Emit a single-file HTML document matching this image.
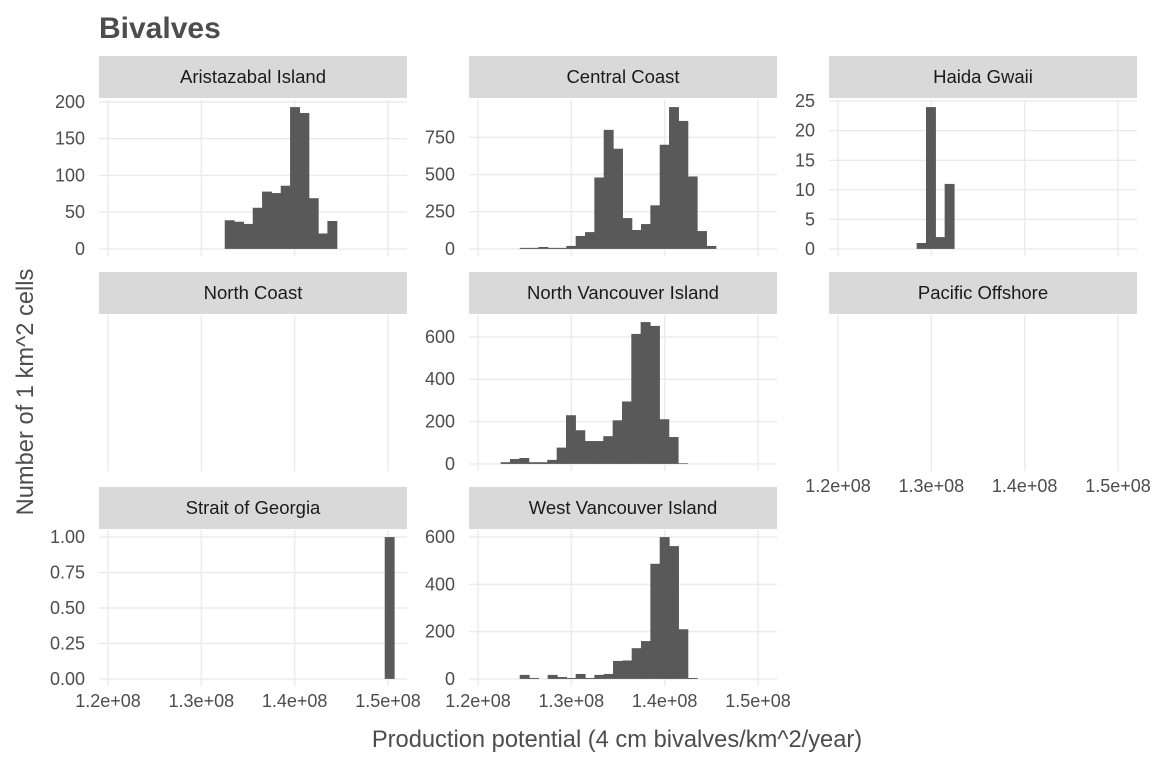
<!DOCTYPE html>
<html><head><meta charset="utf-8"><style>
html,body{margin:0;padding:0;background:#fff;}
svg{display:block;font-family:"Liberation Sans",sans-serif;}
</style></head><body>
<svg id="chart" width="1152" height="768">
<text x="99" y="38" font-size="30" font-weight="bold" fill="#4d4d4d">Bivalves</text>
<text x="617" y="747" font-size="23.7" fill="#4d4d4d" text-anchor="middle">Production potential (4 cm bivalves/km^2/year)</text>
<text transform="translate(33,392) rotate(-90)" font-size="23.7" fill="#4d4d4d" text-anchor="middle">Number of 1 km^2 cells</text>
</svg>
<script>
const BIN = 1e6;
const xTicks = [1.2e8, 1.3e8, 1.4e8, 1.5e8];
const xTickLabels = ["1.2e+08", "1.3e+08", "1.4e+08", "1.5e+08"];
const panelNames = ["Aristazabal Island","Central Coast","Haida Gwaii","North Coast","North Vancouver Island","Pacific Offshore","Strait of Georgia","West Vancouver Island"];
const binStarts = [1.3254e8, 1.245e8, 1.2846e8, 0, 1.2246e8, 0, 1.4968e8, 1.245e8];
const aristazabalCounts = [39,37,34,56,78,76,86,193,185,69,21,38];
const centralCoastCounts = [7,7,13,7,7,20,87,113,480,800,673,207,127,167,293,700,953,860,487,120,20];
const haidaGwaiiCounts = [1,24,2,11];
const northCoastCounts = [];
const northVancouverCounts = [8,23,28,8,8,19,77,230,159,108,108,131,206,295,614,670,652,211,127,3];
const pacificOffshoreCounts = [];
const straitGeorgiaCounts = [1];
const westVancouverCounts = [17,4,0,17,8,4,21,4,17,21,76,78,130,160,487,600,562,210,4];
const allCounts = [aristazabalCounts,centralCoastCounts,haidaGwaiiCounts,northCoastCounts,northVancouverCounts,pacificOffshoreCounts,straitGeorgiaCounts,westVancouverCounts];
const yTicksAristazabal = [0,50,100,150,200];
const yTicksCentral = [0,250,500,750];
const yTicksHaida = [0,5,10,15,20,25];
const yTicksNVI = [0,200,400,600];
const yTicksSoG = [0,0.25,0.5,0.75,1];
const yTicksWVI = [0,200,400,600];
const allYTicks = [yTicksAristazabal,yTicksCentral,yTicksHaida,null,yTicksNVI,null,yTicksSoG,yTicksWVI];

const NS="http://www.w3.org/2000/svg";
const svg=document.getElementById('chart');
function mk(tag,attrs,parent){const e=document.createElementNS(NS,tag);for(const k in attrs)e.setAttribute(k,attrs[k]);(parent||svg).appendChild(e);return e;}
const colX=[99,469,829], PW=308;
const stripY=[56,272,487], plotY=[100,315,530], PH=156;
const XMIN=1.2e8-9/93.33*1e7, XMAX=1.2e8+(PW-9)/93.33*1e7;

panelNames.forEach((name,i)=>{
  const c=i%3, r=Math.floor(i/3);
  const x0=colX[c], y0=plotY[r];
  const g=mk('g',{});
  
  
  const strip=mk('rect',{x:x0,y:stripY[r],width:PW,height:42,fill:'#d9d9d9'},g);
  
  
  const st=mk('text',{x:x0+PW/2,y:stripY[r]+27,'font-size':18.5,fill:'#1a1a1a','text-anchor':'middle'},g);
  st.textContent=name;
  
  
  const xs=v=>x0+(v-XMIN)/(XMAX-XMIN)*PW;
  const counts=allCounts[i], ticks=allYTicks[i];
  let ys=null;
  if(counts.length){
    const mx=Math.max(...counts), lo=-0.05*mx, hi=mx*1.05;
    ys=v=>y0+PH-(v-lo)/(hi-lo)*PH;
  }
  xTicks.forEach(t=>{
    const l=mk('line',{x1:xs(t),x2:xs(t),y1:y0,y2:y0+PH,stroke:'#ebebeb','stroke-width':1.4},g);
    
    
  });
  if(ys&&ticks){
    ticks.forEach(t=>{
      const l=mk('line',{x1:x0,x2:x0+PW,y1:ys(t),y2:ys(t),stroke:'#ebebeb','stroke-width':1.4},g);
      
      
      const tx=mk('text',{x:x0-14,y:ys(t)+6,'font-size':18,fill:'#4d4d4d','text-anchor':'end'},g);
      tx.textContent=(i===6)?t.toFixed(2):String(t);
      
      
    });
    counts.forEach((v,k)=>{
      const a=binStarts[i]+k*BIN;
      const b=mk('rect',{x:xs(a)-0.3,y:ys(v),width:xs(a+BIN)-xs(a)+0.6,height:Math.max(0,ys(0)-ys(v)),fill:'#595959'},g);
      
      
    });
  }
  if(r===2 || (r===1&&c===2)){
    xTicks.forEach((t,k)=>{
      const tx=mk('text',{x:xs(t),y:y0+PH+21,'font-size':18,fill:'#4d4d4d','text-anchor':'middle'},g);
      tx.textContent=xTickLabels[k];
      
      
    });
  }
});
</script>
</body></html>
